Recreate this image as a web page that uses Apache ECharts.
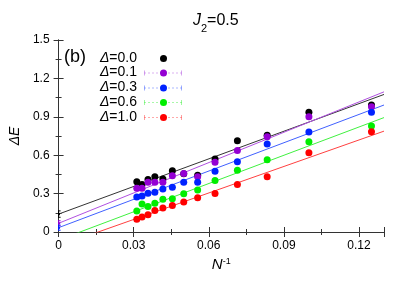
<!DOCTYPE html>
<html>
<head>
<meta charset="utf-8">
<script src="https://cdn.jsdelivr.net/npm/echarts@6/dist/echarts.min.js"></script>
<style>html,body{margin:0;padding:0;background:#fff;}#c{width:409px;height:286px;}</style>
</head>
<body>
<div id="c"></div>
<script>
// System sizes N; x value is 1/N
const Ns = [32, 30, 28, 26, 24, 22, 20, 18, 16, 14, 12, 10, 8];
const seriesLabels = ['0.0', '0.1', '0.3', '0.6', '1.0'];
const colors = ['#000000', '#9400d3', '#0022ff', '#00ee00', '#ff0000'];
const lineColors = ['#333333', '#b050e0', '#4060ff', '#40f040', '#ff4040'];
const gapD00 = [0.393, 0.372, 0.411, 0.432, 0.415, 0.479, 0.456, 0.443, 0.570, 0.712, 0.755, 0.935, 0.992];
const gapD01 = [0.341, 0.341, 0.388, 0.388, 0.388, 0.440, 0.458, 0.432, 0.544, 0.637, 0.745, 0.901, 0.979];
const gapD03 = [0.273, 0.281, 0.302, 0.310, 0.336, 0.349, 0.388, 0.388, 0.475, 0.549, 0.688, 0.781, 0.935];
const gapD06 = [0.164, 0.219, 0.200, 0.224, 0.255, 0.260, 0.299, 0.328, 0.402, 0.482, 0.565, 0.706, 0.828];
const gapD10 = [0.099, 0.117, 0.135, 0.167, 0.188, 0.208, 0.234, 0.268, 0.300, 0.372, 0.432, 0.620, 0.784];
const gaps = [gapD00, gapD01, gapD03, gapD06, gapD10];
// linear fits  dE = a + b / N
const fitIntercept = [0.140, 0.068, 0.034, -0.063, -0.109];
const fitSlope = [7.19, 7.90, 7.37, 7.36, 6.90];
// extrapolated values at 1/N = 0 with error bars
const extrapValue = [0.140, 0.068, 0.034];
const extrapError = [0.025, 0.020, 0.020];
const xTicks = [0, 0.03, 0.06, 0.09, 0.12];
const xMax = 0.13;

const FONT = "'Liberation Sans', Arial, Helvetica, sans-serif";
const invN = Ns.map(n => 1 / n);

const series = [];
// fit lines
fitIntercept.forEach((a, i) => {
  series.push({
    type: 'line', z: 2, silent: true, showSymbol: false, clip: true,
    data: [[0, a], [xMax, a + fitSlope[i] * xMax]],
    lineStyle: { color: lineColors[i], width: 1 },
    animation: false
  });
});
// error bars at x=0
series.push({
  type: 'custom', z: 3, clip: true, animation: false,
  data: extrapValue.map((v, i) => [0, v, extrapError[i], i]),
  renderItem: function (params, api) {
    const x = api.value(0), y = api.value(1), e = api.value(2), idx = api.value(3);
    const lo = api.coord([x, y - e]);
    const hi = api.coord([x, y + e]);
    const mid = api.coord([x, y]);
    const c = colors[idx];
    return {
      type: 'group',
      children: [
        { type: 'line', shape: { x1: lo[0], y1: lo[1], x2: hi[0], y2: hi[1] }, style: { stroke: c, lineWidth: 1 } },
        { type: 'line', shape: { x1: lo[0] - 2, y1: lo[1], x2: lo[0] + 2, y2: lo[1] }, style: { stroke: c, lineWidth: 1 } },
        { type: 'line', shape: { x1: hi[0] - 2, y1: hi[1], x2: hi[0] + 2, y2: hi[1] }, style: { stroke: c, lineWidth: 1 } },
        { type: 'circle', shape: { cx: mid[0], cy: mid[1], r: 1.5 }, style: { fill: c } }
      ]
    };
  }
});
// data points
gaps.forEach((g, i) => {
  series.push({
    type: 'scatter', z: 4, symbol: 'circle', symbolSize: 7,
    data: g.map((v, k) => [invN[k], v]),
    itemStyle: { color: colors[i], opacity: 1 },
    animation: false
  });
});

// legend drawn as graphic
const rowY = [58, 72.5, 87.5, 102, 117];
const graphics = [];
graphics.push({
  type: 'text', x: 64, y: 57,
  style: { text: '(b)', fontSize: 18, fontFamily: FONT, fill: '#000', verticalAlign: 'middle', align: 'left' }
});
seriesLabels.forEach((lab, i) => {
  const y = rowY[i];
  graphics.push({
    type: 'text', x: 137, y: y,
    style: {
      text: '{i|Δ}{n|=' + lab + '}', align: 'right', verticalAlign: 'middle',
      rich: {
        i: { fontSize: 14, fontStyle: 'italic', fontFamily: FONT, fill: '#000' },
        n: { fontSize: 14, fontFamily: FONT, fill: '#000' }
      }
    }
  });
  if (i > 0) {
    graphics.push({ type: 'line', shape: { x1: 144, y1: y + 0.5, x2: 182, y2: y + 0.5 }, style: { stroke: lineColors[i], lineWidth: 1, lineDash: [2, 2], opacity: 0.45 } });
    graphics.push({ type: 'line', shape: { x1: 144.5, y1: y - 2, x2: 144.5, y2: y + 3 }, style: { stroke: lineColors[i], lineWidth: 1, opacity: 0.5 } });
    graphics.push({ type: 'line', shape: { x1: 181.5, y1: y - 2, x2: 181.5, y2: y + 3 }, style: { stroke: lineColors[i], lineWidth: 1, opacity: 0.5 } });
  }
  graphics.push({ type: 'circle', shape: { cx: 163.5, cy: y + 0.5, r: 3.5 }, style: { fill: colors[i] } });
});

const axisCommon = {
  type: 'value',
  axisLine: { show: true, lineStyle: { color: '#333', width: 1 } },
  axisTick: { show: true, inside: true, length: 5, lineStyle: { color: '#333' } },
  minorTick: { show: true, splitNumber: 2, length: 3, lineStyle: { color: '#333' } },
  splitLine: { show: false }
};
const xFmt = v => {
  for (const t of xTicks) if (Math.abs(v - t) < 1e-9) return String(t);
  return '';
};

const option = {
  animation: false,
  backgroundColor: '#fff',
  title: {
    text: '{i|J}{s|2}{n|=0.5}',
    left: 188, top: 8,
    textStyle: {
      fontWeight: 'normal',
      rich: {
        i: { fontSize: 16, fontStyle: 'italic', fontWeight: 'normal', fontFamily: FONT, color: '#000', lineHeight: 16, verticalAlign: 'top' },
        n: { fontSize: 16, fontWeight: 'normal', fontFamily: FONT, color: '#000', lineHeight: 16, verticalAlign: 'top' },
        s: { fontSize: 11, fontWeight: 'normal', fontFamily: FONT, color: '#000', lineHeight: 21, verticalAlign: 'bottom' }
      }
    }
  },
  grid: { left: 53, right: 25, top: 40, bottom: 54, containLabel: false },
  xAxis: [
    Object.assign({}, axisCommon, {
      min: 0, max: xMax, interval: 0.03, position: 'bottom',
      axisLabel: { color: '#000', fontSize: 12, fontFamily: FONT, margin: 8, formatter: xFmt, showMaxLabel: true },
      name: '{i|N}{s|-1}', nameLocation: 'middle', nameGap: 21,
      nameTextStyle: {
        rich: {
          i: { fontSize: 15, fontStyle: 'italic', fontFamily: FONT, color: '#000', lineHeight: 16, verticalAlign: 'top' },
          s: { fontSize: 9, fontFamily: FONT, color: '#000', lineHeight: 9, verticalAlign: 'top' }
        }
      }
    }),
    Object.assign({}, axisCommon, {
      min: 0, max: xMax, interval: 0.03, position: 'top', axisLabel: { show: false }
    })
  ],
  yAxis: [
    Object.assign({}, axisCommon, {
      min: 0, max: 1.5, interval: 0.3, position: 'left',
      axisLabel: { color: '#000', fontSize: 12, fontFamily: FONT, margin: 9 },
      name: 'ΔE', nameLocation: 'middle', nameGap: 28,
      nameTextStyle: { fontSize: 14, fontStyle: 'italic', fontFamily: FONT, color: '#000' }
    }),
    Object.assign({}, axisCommon, {
      min: 0, max: 1.5, interval: 0.3, position: 'right', axisLabel: { show: false }
    })
  ],
  graphic: graphics,
  series: series
};

const chart = echarts.init(document.getElementById('c'), null, { renderer: 'canvas' });
chart.setOption(option);
</script>
</body>
</html>
